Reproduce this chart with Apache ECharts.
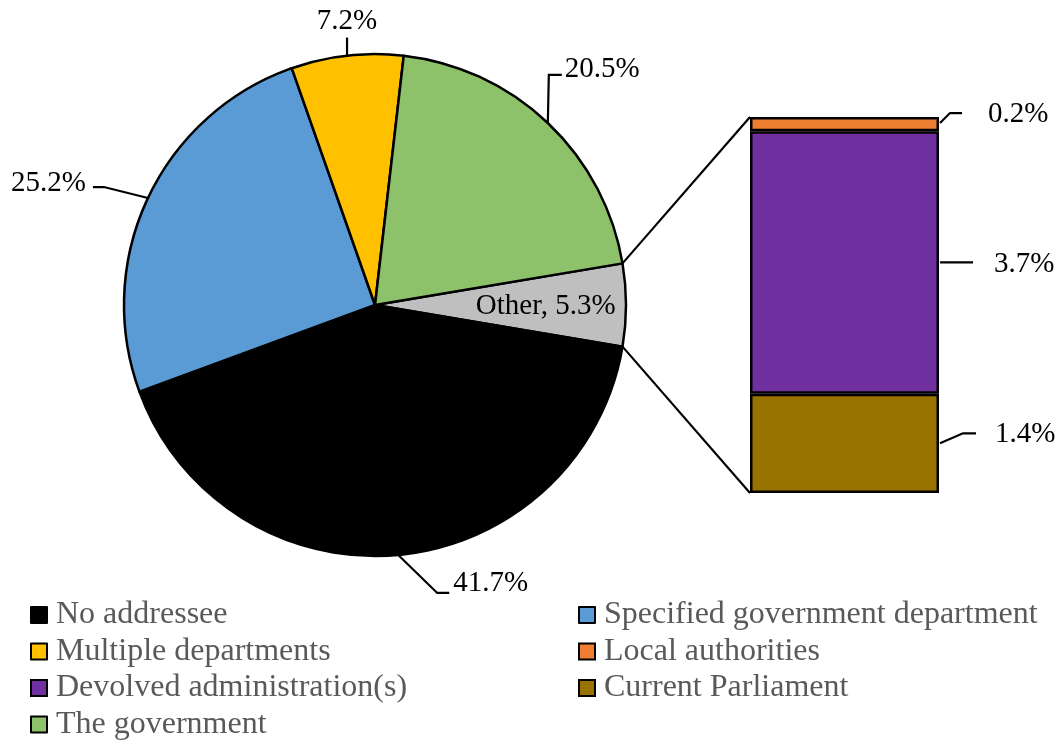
<!DOCTYPE html>
<html>
<head>
<meta charset="utf-8">
<script src="https://cdn.jsdelivr.net/npm/echarts/dist/echarts.min.js"></script>
<style>
  html, body { margin: 0; padding: 0; background: #fff; }
  #chart { width: 1062px; height: 740px; }
</style>
</head>
<body>
<div id="chart"></div>
<script>
// Shares of recommendations by addressee (%)
const pieNames = ['Other', 'No addressee', 'Specified government department', 'Multiple departments', 'The government'];
const pieValues = [5.3, 41.7, 25.2, 7.2, 20.5];
const pieColors = ['#BFBFBF', '#000000', '#5B9BD5', '#FFC000', '#8DC16A'];

// Breakdown of "Other" (stacked bottom to top)
const barCategory = ['Other'];
const barNames = ['Current Parliament', 'Devolved administration(s)', 'Local authorities'];
const barValues = [1.4, 3.7, 0.2];
const barColors = ['#997300', '#7030A0', '#ED7D31'];

const legendLeftNames = ['No addressee', 'Multiple departments', 'Devolved administration(s)', 'The government'];
const legendRightNames = ['Specified government department', 'Local authorities', 'Current Parliament'];

const FONT = '"Liberation Serif", "Times New Roman", serif';
const CX = 375, CY = 305, R = 251;

const pieTotal = pieValues.reduce((a, b) => a + b, 0);
const otherTotal = barValues.reduce((a, b) => a + b, 0);
// "Other" straddles 3 o'clock
const startAngle = 180 * pieValues[0] / pieTotal;

function midAngle(i) {
  let cum = 0;
  for (let k = 0; k < i; k++) cum += pieValues[k];
  return startAngle - 360 * (cum + pieValues[i] / 2) / pieTotal;
}
function polar(deg, rr) {
  const a = deg * Math.PI / 180;
  return [CX + rr * Math.cos(a), CY - rr * Math.sin(a)];
}

// Label placement for each slice, relative to the slice's outer mid point
const pieLabelPlacement = [
  function (p) { const q = polar(midAngle(0), R * 0.68); return { x: q[0], y: q[1] + 1, align: 'center', verticalAlign: 'middle' }; },
  function (p) { return { x: p[0] + 55, y: p[1] + 28, align: 'left', verticalAlign: 'middle',
    labelLinePoints: [p, [p[0] + 39, p[1] + 38], [p[0] + 51, p[1] + 38]] }; },
  function (p) { return { x: p[0] - 62, y: p[1] - 15, align: 'right', verticalAlign: 'middle',
    labelLinePoints: [p, [p[0] - 44, p[1] - 11], [p[0] - 55, p[1] - 11]] }; },
  function (p) { return { x: p[0], y: p[1] - 34, align: 'center', verticalAlign: 'middle',
    labelLinePoints: [p, [p[0], p[1] - 18], [p[0], p[1] - 18]] }; },
  function (p) { return { x: p[0] + 17, y: p[1] - 54, align: 'left', verticalAlign: 'middle',
    labelLinePoints: [p, [p[0] + 1, p[1] - 48], [p[0] + 14, p[1] - 48]] }; }
];

// Bar value label offsets and leader-line shapes (relative to segment's right mid point)
const barLabelOffsets = [[56, -9], [55, 2], [49, -10]];
const barLeaderShapes = [
  [[1, 0], [24, -10], [37, -10]],
  [[1, 0], [34, 0], [34, 0]],
  [[1, -1], [11, -11], [23, -11]]
];

const chart = echarts.init(document.getElementById('chart'), null, { renderer: 'canvas' });

const pieData = pieNames.map((n, i) => ({
  name: n,
  value: pieValues[i],
  itemStyle: { color: pieColors[i] },
  label: i === 0 ? { position: 'inside', formatter: '{b}, {c}%' } : { position: 'outside', formatter: '{c}%' },
  labelLine: { show: i !== 0 }
}));

const series = [{
  type: 'pie',
  center: [CX, CY],
  radius: R,
  startAngle: startAngle,
  clockwise: true,
  avoidLabelOverlap: false,
  silent: true,
  data: pieData,
  itemStyle: { borderColor: '#000', borderWidth: 2.5 },
  label: { show: true, fontFamily: FONT, fontSize: 29, color: '#000' },
  labelLine: { show: true, lineStyle: { color: '#000', width: 2.2 } },
  labelLayout: function (params) {
    const i = params.dataIndex;
    const p = polar(midAngle(i), R);
    return pieLabelPlacement[i](p);
  }
}];

barNames.forEach((n, i) => {
  series.push({
    type: 'bar',
    name: n,
    stack: 'other',
    barWidth: '100%',
    silent: true,
    data: [barValues[i]],
    itemStyle: { color: barColors[i], borderColor: '#000', borderWidth: 2.5 },
    label: {
      show: true, position: 'right', distance: 0, offset: barLabelOffsets[i],
      formatter: '{c}%', fontFamily: FONT, fontSize: 29, color: '#000'
    }
  });
});

const legendCommon = {
  orient: 'vertical',
  top: 598,
  height: 170,
  padding: 0,
  icon: 'rect',
  itemWidth: 16,
  itemHeight: 16,
  itemGap: 2.5,
  selectedMode: false,
  itemStyle: { borderColor: '#000', borderWidth: 2 },
  textStyle: { fontFamily: FONT, fontSize: 32, color: '#595959', lineHeight: 34, padding: [0, 0, 0, 4] }
};

const option = {
  animation: false,
  backgroundColor: '#fff',
  grid: { left: 750, top: 117, width: 189, height: 376 },
  xAxis: { type: 'category', data: barCategory, show: false },
  yAxis: { type: 'value', min: 0, max: otherTotal, show: false },
  legend: [
    Object.assign({}, legendCommon, { left: 30, data: legendLeftNames }),
    Object.assign({}, legendCommon, { left: 578, data: legendRightNames })
  ],
  series: series
};

chart.setOption(option);

// Connector lines from the "Other" slice to the bar, and bar leader lines
function segRect(i) {
  const l = chart.getModel().getSeriesByIndex(i + 1).getData().getItemLayout(0);
  const y0 = Math.min(l.y, l.y + l.height), y1 = Math.max(l.y, l.y + l.height);
  return { x0: l.x, x1: l.x + l.width, y0: y0, y1: y1 };
}
const graphics = [];
const lineStyle = { stroke: '#000', lineWidth: 2.2, fill: null };
const topSeg = segRect(barNames.length - 1);
const botSeg = segRect(0);
const pTop = polar(startAngle, R);
const pBot = polar(-startAngle, R);
graphics.push({ type: 'polyline', silent: true, shape: { points: [pTop, [topSeg.x0, topSeg.y0]] }, style: lineStyle });
graphics.push({ type: 'polyline', silent: true, shape: { points: [pBot, [botSeg.x0, botSeg.y1]] }, style: lineStyle });
barNames.forEach((n, i) => {
  const s = segRect(i);
  const ax = s.x1, ay = (s.y0 + s.y1) / 2;
  graphics.push({
    type: 'polyline', silent: true,
    shape: { points: barLeaderShapes[i].map(d => [ax + d[0], ay + d[1]]) },
    style: lineStyle
  });
});
chart.setOption({ graphic: graphics });
</script>
</body>
</html>
